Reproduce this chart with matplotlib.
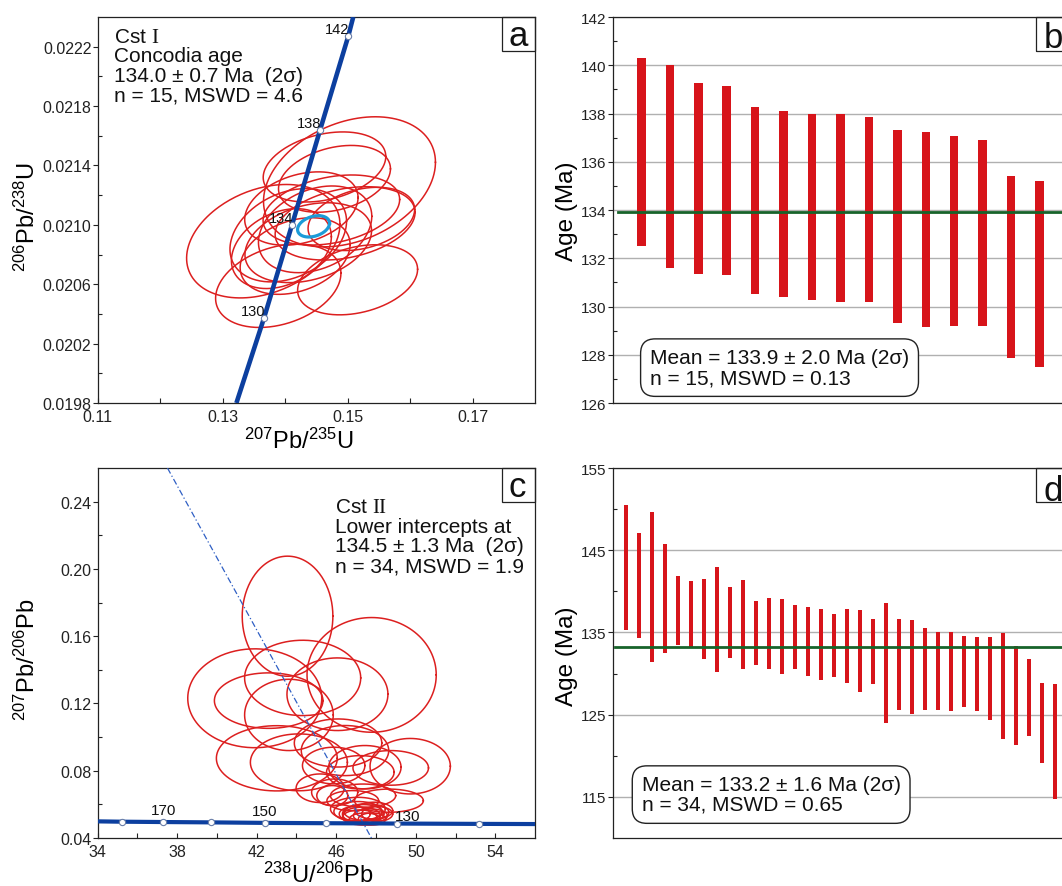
import numpy as np
import matplotlib
matplotlib.use('Agg')
import matplotlib.pyplot as plt
from matplotlib.patches import Rectangle
from matplotlib.ticker import FormatStrFormatter

plt.rcParams['font.family'] = ['Liberation Sans', 'DejaVu Sans']
plt.rcParams['mathtext.fontset'] = 'custom'
plt.rcParams['mathtext.rm'] = 'Liberation Serif'
plt.rcParams['mathtext.it'] = 'Liberation Serif:italic'
plt.rcParams['mathtext.bf'] = 'Liberation Serif:bold'

# ---- panel a: Wetherill concordia, 15 analyses (centre, 2s half-widths, rho)
a_cx = [0.1503, 0.1463, 0.1479, 0.1474, 0.1365, 0.1389, 0.1516, 0.1522,
        0.1496, 0.1405, 0.1394, 0.1416, 0.1437, 0.1448, 0.1426]
a_cy = [0.02129, 0.02139, 0.02131, 0.02110, 0.02089, 0.02059, 0.02063, 0.02104,
        0.02101, 0.02093, 0.02084, 0.02079, 0.02088, 0.02097, 0.02111]
a_sx = [0.01376, 0.00981, 0.00896, 0.01093, 0.01227, 0.01003, 0.0096, 0.00853,
        0.0112, 0.00933, 0.0080, 0.0088, 0.01013, 0.00907, 0.00907]
a_sy = [0.000438, 0.000236, 0.000225, 0.000236, 0.000382, 0.000281, 0.000236, 0.000213,
        0.000247, 0.000314, 0.000269, 0.000258, 0.000269, 0.000292, 0.000247]
a_rho = 0.3
a_mean = (0.14455, 0.02099, 0.00256, 0.0000718)

# concordia curve (207/235, 206/238)
conc_a_x = [0.1322, 0.1366, 0.1411, 0.1456, 0.1501, 0.1509]
conc_a_y = [0.0198, 0.02037, 0.02100, 0.02164, 0.02227, 0.0224]
conc_a_age = [None, 130, 134, 138, 142, None]

# ---- panel b: weighted mean, 15 ages
b_top = [140.3, 140.0, 139.25, 139.15, 138.25, 138.1, 138.0, 138.0, 137.85,
         137.3, 137.25, 137.05, 136.9, 135.4, 135.2]
b_bot = [132.5, 131.6, 131.35, 131.3, 130.5, 130.4, 130.25, 130.2, 130.2,
         129.3, 129.15, 129.2, 129.2, 127.85, 127.5]
b_mean = 133.9

# ---- panel c: Tera-Wasserburg, 34 analyses
c_cx = [43.55, 47.78, 41.90, 44.31, 42.60, 43.62, 46.06, 43.01, 44.12, 46.09,
        46.44, 49.72, 45.87, 47.44, 48.74, 47.21, 45.19, 45.92, 47.35, 48.65,
        46.83, 45.80, 47.09, 47.35, 47.27, 47.53, 47.18, 47.72, 46.93, 47.44,
        47.89, 47.80, 47.09, 48.06]
c_cy = [0.1719, 0.1370, 0.1231, 0.1352, 0.1217, 0.1132, 0.1255, 0.0874, 0.0850, 0.0965,
        0.0920, 0.0827, 0.0831, 0.0821, 0.0817, 0.0791, 0.0696, 0.0672, 0.0652, 0.0622,
        0.0622, 0.0652, 0.0557, 0.0543, 0.0533, 0.0553, 0.0523, 0.0533, 0.0543, 0.0513,
        0.0563, 0.0513, 0.0573, 0.0543]
c_sx = [2.28, 3.25, 3.37, 2.92, 2.73, 2.23, 2.54, 3.04, 2.44, 2.20,
        2.20, 2.02, 1.57, 1.82, 1.90, 1.70, 1.21, 1.16, 1.64, 1.73,
        1.30, 0.78, 1.21, 1.04, 0.95, 1.12, 0.86, 0.86, 0.78, 0.78,
        0.95, 0.69, 1.38, 0.78]
c_sy = [0.0357, 0.0341, 0.0294, 0.0224, 0.0165, 0.0212, 0.0216, 0.0194, 0.0169, 0.0143,
        0.0149, 0.0165, 0.0109, 0.0129, 0.0103, 0.0099, 0.0085, 0.0079, 0.0069, 0.0069,
        0.0060, 0.0060, 0.0060, 0.0056, 0.0050, 0.0050, 0.0044, 0.0040, 0.0044, 0.0036,
        0.0050, 0.0036, 0.0069, 0.0044]

conc_c_x = [34.0, 35.2, 37.3, 39.7, 42.4, 45.5, 49.05, 53.2, 56.0]
conc_c_y = [0.0499, 0.0497, 0.0495, 0.0493, 0.0490, 0.0488, 0.0486, 0.0484, 0.0483]
conc_c_age = [None, 180, 170, 160, 150, 140, 130, 120, None]
c_labelled = [170, 150, 130]

disc_x = [37.51, 47.77]
disc_y = [0.26, 0.04]

# ---- panel d: weighted mean, 34 ages
d_top = [150.5, 147.1, 149.7, 145.8, 141.9, 141.3, 141.5, 143.0, 140.5, 141.4,
         138.8, 139.2, 139.1, 138.4, 138.1, 137.9, 137.2, 137.9, 137.7, 136.6,
         138.6, 136.6, 136.5, 135.5, 135.1, 135.1, 134.6, 134.4, 134.4, 134.9,
         133.4, 131.8, 128.8, 128.7]
d_bot = [135.3, 134.3, 131.4, 132.5, 133.5, 133.2, 131.8, 130.2, 131.9, 130.6,
         131.1, 130.5, 130.0, 130.5, 129.7, 129.2, 129.6, 128.9, 127.8, 128.7,
         124.0, 125.6, 125.1, 125.6, 125.6, 125.4, 125.9, 125.4, 124.4, 122.0,
         121.3, 122.4, 119.1, 114.7]
d_mean = 133.2

RED = '#dc1f1f'
BAR = '#d7141a'
BLUE = '#0c3f9f'
GREEN = '#17632a'
INK = '#222222'


def ellipse(ax, cx, cy, sx, sy, rho, **kw):
    t = np.linspace(0, 2 * np.pi, 240)
    x = cx + sx * np.cos(t)
    y = cy + sy * (rho * np.cos(t) + np.sqrt(1 - rho ** 2) * np.sin(t))
    ax.plot(x, y, **kw)


def style(ax, lsize=11.5):
    for s in ax.spines.values():
        s.set_color(INK)
        s.set_linewidth(0.9)
    ax.tick_params(axis='x', which='both', direction='in', length=3.5, width=0.8,
                   labelsize=lsize, pad=4, colors=INK)
    ax.tick_params(axis='y', which='major', direction='out', length=3.5, width=0.8,
                   labelsize=lsize, pad=1, colors=INK)
    ax.tick_params(axis='y', which='minor', direction='in', length=3, width=0.8, colors=INK)


def letter(ax, s, x0, y0, tx, ty):
    ax.add_patch(Rectangle((x0, y0), 1 - x0, 1 - y0, transform=ax.transAxes, fill=False,
                           ec=INK, lw=0.9, clip_on=False, zorder=6))
    ax.text(tx, ty, s, transform=ax.transAxes, ha='center', va='baseline',
            fontsize=25, color='#111111', zorder=7)


fig = plt.figure(figsize=(10.62, 8.87), dpi=100)
ax_a = fig.add_axes([0.0920, 0.5445, 0.4118, 0.4352])
ax_b = fig.add_axes([0.5772, 0.5445, 0.4284, 0.4352])
ax_c = fig.add_axes([0.0920, 0.0541, 0.4118, 0.4171])
ax_d = fig.add_axes([0.5772, 0.0541, 0.4284, 0.4171])

# ---------------- a
for i in range(len(a_cx)):
    ellipse(ax_a, a_cx[i], a_cy[i], a_sx[i], a_sy[i], a_rho, color=RED, lw=1.1, zorder=2)
ax_a.plot(conc_a_x, conc_a_y, color=BLUE, lw=3.3, solid_capstyle='butt', zorder=3)
ellipse(ax_a, *a_mean, a_rho, color='#1c9bd8', lw=2.3, zorder=4)
for x, y, age in zip(conc_a_x, conc_a_y, conc_a_age):
    if age is None:
        continue
    ax_a.plot(x, y, 'o', ms=4.5, mfc='white', mec='#6a7fa8', mew=0.8, zorder=5)
    ax_a.annotate(str(age), (x, y), xytext=(1, 0), textcoords='offset points',
                  ha='right', va='bottom', fontsize=10.5, color='#111111', zorder=6)
ax_a.set_xlim(0.11, 0.18)
ax_a.set_ylim(0.0198, 0.0224)
ax_a.set_xticks([0.11, 0.13, 0.15, 0.17])
ax_a.set_xticks([0.12, 0.14, 0.16], minor=True)
ax_a.set_yticks([0.0198, 0.0202, 0.0206, 0.0210, 0.0214, 0.0218, 0.0222])
ax_a.set_yticks([0.0200, 0.0204, 0.0208, 0.0212, 0.0216, 0.0220], minor=True)
ax_a.xaxis.set_major_formatter(FormatStrFormatter('%.2f'))
ax_a.yaxis.set_major_formatter(FormatStrFormatter('%.4f'))
style(ax_a)
ax_a.set_xlabel(r'$\mathregular{^{207}Pb/^{235}U}$', fontsize=17)
ax_a.set_ylabel(r'$\mathregular{^{206}Pb/^{238}U}$', fontsize=17)
ax_a.xaxis.set_label_coords(0.46, -0.065)
ax_a.yaxis.set_label_coords(-0.133, 0.485)
ax_a.text(0.0384, 0.975, 'Cst $\\mathrm{I}$\nConcodia age\n134.0 ± 0.7 Ma  (2σ)\nn = 15, MSWD = 4.6',
          transform=ax_a.transAxes, ha='left', va='top', fontsize=15, linespacing=1.05,
          color='#111111')
letter(ax_a, 'a', 0.9245, 0.912, 0.961, 0.927)

# ---------------- b
idx_b = np.arange(1, len(b_top) + 1)
ax_b.bar(idx_b, np.array(b_top) - np.array(b_bot), bottom=b_bot, width=0.3,
         color=BAR, zorder=2)
ax_b.plot([0.18, 16], [b_mean, b_mean], color=GREEN, lw=2, zorder=3)
ax_b.set_xlim(0, 16)
ax_b.set_ylim(126, 142)
ax_b.set_xticks([])
ax_b.set_yticks(np.arange(126, 143, 2))
ax_b.set_yticks(np.arange(127, 142, 2), minor=True)
ax_b.grid(axis='y', which='major', color='#b0b0b0', lw=1, zorder=0)
ax_b.set_axisbelow(True)
style(ax_b, 11)
ax_b.set_ylabel('Age (Ma)', fontsize=17.5)
ax_b.yaxis.set_label_coords(-0.077, 0.5)
ax_b.text(0.0813, 0.0415, 'Mean = 133.9 ± 2.0 Ma (2σ)\nn = 15, MSWD = 0.13',
          transform=ax_b.transAxes, ha='left', va='bottom', fontsize=15, linespacing=1.05,
          color='#111111', zorder=6,
          bbox=dict(boxstyle='round,pad=0.45,rounding_size=0.7', fc='white', ec=INK, lw=1))
letter(ax_b, 'b', 0.9297, 0.912, 0.967, 0.922)

# ---------------- c
for i in range(len(c_cx)):
    ellipse(ax_c, c_cx[i], c_cy[i], c_sx[i], c_sy[i], 0.0, color=RED, lw=1.1, zorder=2)
ax_c.plot(disc_x, disc_y, color='#2f5fc4', lw=0.9, ls=(0, (5, 2, 1, 2)), zorder=3)
ax_c.plot(conc_c_x, conc_c_y, color=BLUE, lw=3, zorder=3)
for x, y, age in zip(conc_c_x, conc_c_y, conc_c_age):
    if age is None:
        continue
    ax_c.plot(x, y, 'o', ms=4.5, mfc='white', mec='#6a7fa8', mew=0.8, zorder=5)
    if age in c_labelled:
        if age == 130:
            ax_c.annotate(str(age), (x, y), xytext=(-1.5, 0.5), textcoords='offset points',
                          ha='left', va='bottom', fontsize=11, color='#111111', zorder=6)
        else:
            ax_c.annotate(str(age), (x, y), xytext=(0, 3.5), textcoords='offset points',
                          ha='center', va='bottom', fontsize=11, color='#111111', zorder=6)
ax_c.set_xlim(34, 56)
ax_c.set_ylim(0.04, 0.26)
ax_c.set_xticks(np.arange(34, 55, 4))
ax_c.set_xticks(np.arange(36, 55, 4), minor=True)
ax_c.set_yticks([0.04, 0.08, 0.12, 0.16, 0.20, 0.24])
ax_c.set_yticks([0.06, 0.10, 0.14, 0.18, 0.22], minor=True)
ax_c.yaxis.set_major_formatter(FormatStrFormatter('%.2f'))
style(ax_c)
ax_c.set_xlabel(r'$\mathregular{^{238}U/^{206}Pb}$', fontsize=17)
ax_c.set_ylabel(r'$\mathregular{^{207}Pb/^{206}Pb}$', fontsize=17)
ax_c.xaxis.set_label_coords(0.504, -0.065)
ax_c.yaxis.set_label_coords(-0.133, 0.484)
ax_c.text(0.5436, 0.9224, 'Cst $\\mathrm{II}$\nLower intercepts at\n134.5 ± 1.3 Ma  (2σ)\nn = 34, MSWD = 1.9',
          transform=ax_c.transAxes, ha='left', va='top', fontsize=15, linespacing=1.05,
          color='#111111')
letter(ax_c, 'c', 0.9234, 0.908, 0.960, 0.925)

# ---------------- d
idx_d = np.arange(1, len(d_top) + 1)
ax_d.bar(idx_d, np.array(d_top) - np.array(d_bot), bottom=d_bot, width=0.33,
         color=BAR, zorder=2)
ax_d.plot([0.15, 35], [d_mean, d_mean], color=GREEN, lw=2, zorder=3)
ax_d.set_xlim(0, 35)
ax_d.set_ylim(110, 155)
ax_d.set_xticks([])
ax_d.set_yticks([115, 125, 135, 145, 155])
ax_d.set_yticks([120, 130, 140, 150], minor=True)
ax_d.grid(axis='y', which='major', color='#b0b0b0', lw=1, zorder=0)
ax_d.set_axisbelow(True)
style(ax_d, 11)
ax_d.set_ylabel('Age (Ma)', fontsize=17.5)
ax_d.yaxis.set_label_coords(-0.077, 0.495)
ax_d.text(0.063, 0.065, 'Mean = 133.2 ± 1.6 Ma (2σ)\nn = 34, MSWD = 0.65',
          transform=ax_d.transAxes, ha='left', va='bottom', fontsize=15, linespacing=1.05,
          color='#111111', zorder=6,
          bbox=dict(boxstyle='round,pad=0.45,rounding_size=0.7', fc='white', ec=INK, lw=1))
letter(ax_d, 'd', 0.9297, 0.908, 0.967, 0.914)

fig.savefig('out.png', dpi=100)
